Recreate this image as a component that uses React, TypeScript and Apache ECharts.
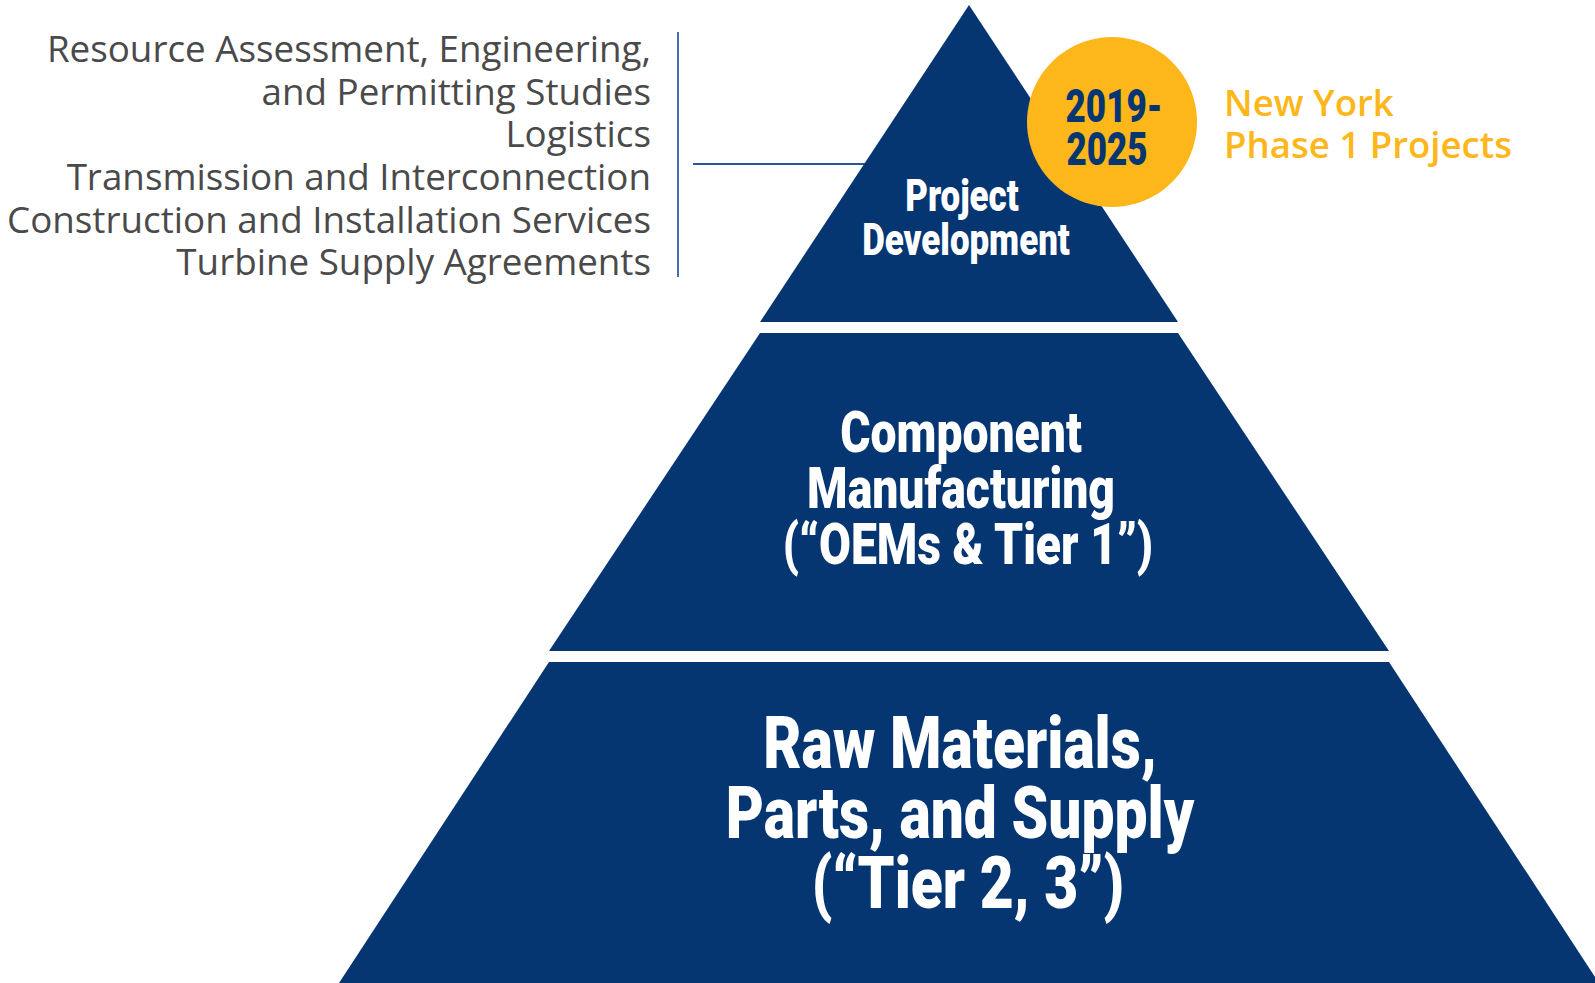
import React, { useEffect, useRef } from "react";
import * as echarts from "echarts";

// ---- data ----
const tierNames = [
  "Project Development",
  "Component Manufacturing",
  "Raw Materials, Parts, and Supply",
];
const tierWidths = [418, 840, 1260];
const tierHeights = [317, 318, 321];
const tierLabelLines = [
  ["Project", "Development"],
  ["Component", "Manufacturing", "(\u201cOEMs & Tier 1\u201d)"],
  ["Raw Materials,", "Parts, and Supply", "(\u201cTier 2, 3\u201d)"],
];
const activityList = [
  "Resource Assessment, Engineering,",
  "and Permitting Studies",
  "Logistics",
  "Transmission and Interconnection",
  "Construction and Installation Services",
  "Turbine Supply Agreements",
];
const periodLines = ["2019-", "2025"];
const periodNoteLines = ["New York", "Phase 1 Projects"];

// ---- styling / layout ----
const NAVY = "#063672";
const GOLD = "#FDB71A";
const GRAY = "#4a4a4a";
const CONDENSED = "Roboto";

const listWidths = [612, 383, 150, 573, 641, 475];
const tierLabelLayout = [
  { xs: [962, 966], y0: 196, dy: 44, size: 44, widths: [115, 205] },
  { xs: [961, 961, 968], y0: 433, dy: 56, size: 57, widths: [240, 310, 372] },
  { xs: [960, 960, 968], y0: 743, dy: 70, size: 72, widths: [388, 464, 320] },
];

let measureCtx: CanvasRenderingContext2D | null = null;
function measure(text: string, font: string): number {
  if (!measureCtx) measureCtx = document.createElement("canvas").getContext("2d");
  measureCtx!.font = font;
  return measureCtx!.measureText(text).width;
}

function condensedBlock(lines: string[], xs: number[], y0: number, dy: number, size: number, widths: number[], fill: string) {
  const font = `900 ${size}px ${CONDENSED}`;
  let sum = 0;
  lines.forEach((t, i) => (sum += widths[i] / measure(t, font)));
  const s = sum / lines.length;
  return lines.map((t, i) => ({
    type: "text",
    x: xs[i],
    y: y0 + i * dy,
    scaleX: s,
    scaleY: 1,
    z: 10,
    style: {
      text: t,
      font,
      fill,
      lineHeight: dy,
      align: "center",
      verticalAlign: "middle",
      textAlign: "center",
      textVerticalAlign: "middle",
    },
  }));
}

export default function App() {
  const ref = useRef<HTMLDivElement>(null);
  useEffect(() => {
    if (!ref.current) return;
    const chart = echarts.init(ref.current, undefined, { renderer: "svg" });

    const listFam = "'Open Sans'";
    let ratio = 0;
    activityList.forEach((t, i) => (ratio += listWidths[i] / measure(t, `400 100px ${listFam}`)));
    const listSize = (ratio / activityList.length) * 100;
    const noteFam = "'Open Sans'";
    const noteSize = (288 / measure(periodNoteLines[1], `600 100px ${noteFam}`)) * 100;

    const listSpacing = 42.7;
    const graphics: any[] = [];
    graphics.push({
      type: "text",
      x: 651,
      y: 48 - listSpacing / 2,
      style: {
        text: activityList.join("\n"),
        font: `400 ${listSize}px ${listFam}`,
        fill: GRAY,
        lineHeight: listSpacing,
        align: "right",
        verticalAlign: "top",
        textAlign: "right",
        textVerticalAlign: "top",
      },
    });
    graphics.push({
      type: "line",
      shape: { x1: 678, y1: 32, x2: 678, y2: 277 },
      style: { stroke: "#4a6fa8", lineWidth: 2 },
    });
    graphics.push({
      type: "line",
      shape: { x1: 693, y1: 164, x2: 866, y2: 164 },
      style: { stroke: "#2a5599", lineWidth: 2 },
    });
    tierLabelLines.forEach((lines, i) => {
      const L = tierLabelLayout[i];
      graphics.push(...condensedBlock(lines, L.xs, L.y0, L.dy, L.size, L.widths, "#ffffff"));
    });
    graphics.push({
      type: "circle",
      z: 5,
      shape: { cx: 1112, cy: 122, r: 85 },
      style: { fill: GOLD },
    });
    graphics.push(...condensedBlock(periodLines, [1114, 1107], 106, 43, 46, [97, 81], NAVY));
    graphics.push({
      type: "text",
      x: 1224,
      y: 102 - 21,
      style: {
        text: periodNoteLines.join("\n"),
        font: `600 ${noteSize}px ${noteFam}`,
        fill: GOLD,
        lineHeight: 42,
        align: "left",
        verticalAlign: "top",
        textAlign: "left",
        textVerticalAlign: "top",
      },
    });

    chart.setOption({
      animation: false,
      backgroundColor: "#ffffff",
      series: [
        {
          type: "funnel",
          sort: "ascending",
          left: 339,
          top: 5,
          width: 1260,
          height: 978,
          min: 0,
          max: 1260,
          minSize: "0%",
          maxSize: "100%",
          gap: 11,
          silent: true,
          label: { show: false },
          labelLine: { show: false },
          itemStyle: { color: NAVY, borderWidth: 0 },
          emphasis: { disabled: true },
          data: tierNames.map((name, i) => ({
            name,
            value: tierWidths[i],
            itemStyle: { height: tierHeights[i] },
          })),
        },
      ],
      graphic: { elements: graphics },
    });
    return () => chart.dispose();
  }, []);
  return (
    <div
      ref={ref}
      style={{ position: "fixed", left: 0, top: 0, width: 1595, height: 983, background: "#fff" }}
    />
  );
}
